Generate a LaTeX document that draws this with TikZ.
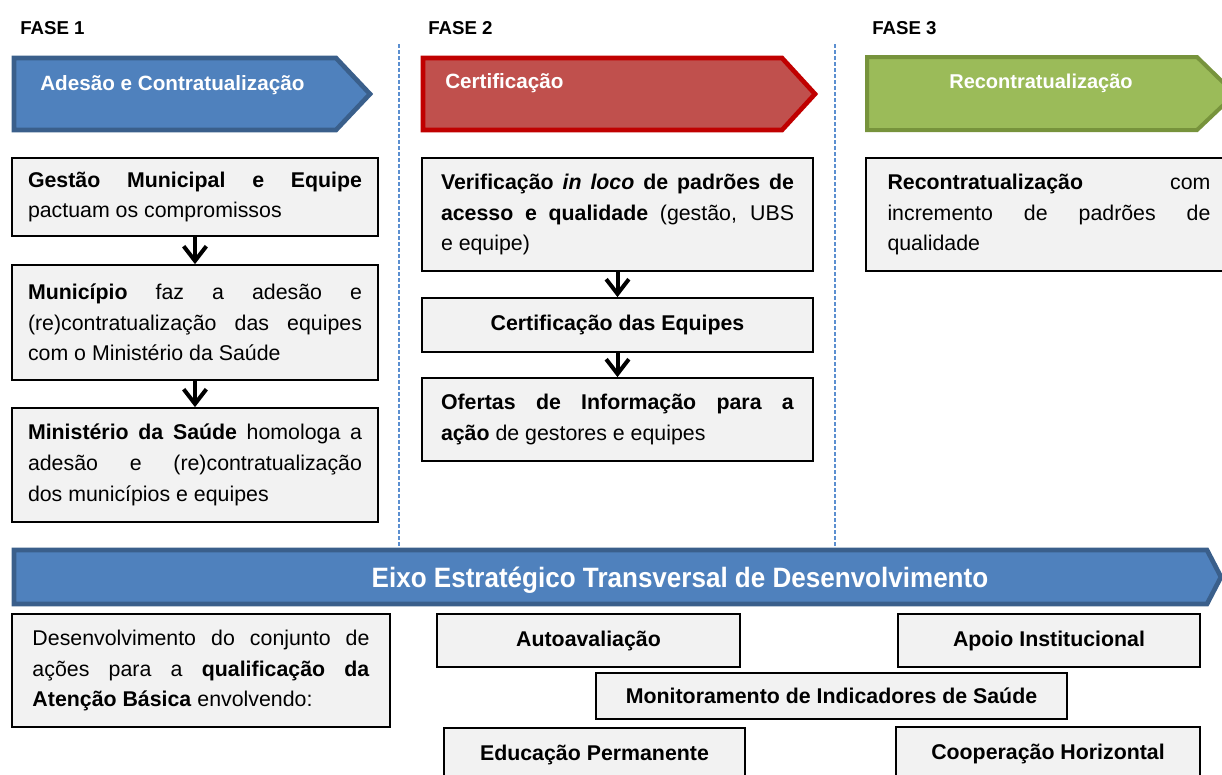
\documentclass[tikz,border=0pt]{standalone}
\usepackage{fontspec}
\setmainfont{Liberation Sans}
\newfontfamily\estreita[FakeStretch=0.93]{Liberation Sans}
\usepackage{tikz}
\usetikzlibrary{arrows.meta}

\definecolor{azul}{HTML}{4F81BD}
\definecolor{azulborda}{HTML}{3A5F8B}
\definecolor{vermelho}{HTML}{C0504D}
\definecolor{vermelhoborda}{HTML}{C00000}
\definecolor{verde}{HTML}{9BBB59}
\definecolor{verdeborda}{HTML}{77933C}
\definecolor{cinza}{HTML}{F2F2F2}
\definecolor{tracejado}{HTML}{5B8FD0}

\begin{document}
\begin{tikzpicture}[x=0.75pt, y=-0.75pt,
    caixa/.style={draw=black, line width=1.3pt, fill=cinza, align=justify,
      inner ysep=0pt, font=\fontsize{16}{23}\selectfont},
    rotulo/.style={draw=black, line width=1.3pt, fill=cinza, align=center,
      inner sep=0pt, font=\fontsize{16}{23}\selectfont\bfseries},
    seta/.style={line width=3pt, -{Straight Barb[length=11pt, width=17pt]}},
    fase/.style={anchor=west, inner sep=0pt, font=\fontsize{14}{16}\selectfont\bfseries}]
      \useasboundingbox (0,0) rectangle (1222,775);
      \clip (0,0) rectangle (1222,775);
      \hyphenpenalty=10000

      % cabecalhos
      \node[fase] (f1) at (20,28) {FASE 1};
      \node[fase] (f2) at (428,28) {FASE 2};
      \node[fase] (f3) at (872,28) {FASE 3};

      % separadores
      \draw[tracejado, line width=1.1pt, dash pattern=on 3pt off 1.5pt] (399,44) -- (399,548);
      \draw[tracejado, line width=1.1pt, dash pattern=on 3pt off 1.5pt] (835,44) -- (835,548);

      % setas das fases
      \draw[line width=3.5pt, draw=azulborda, fill=azul, line join=miter]
        (14,58) -- (336,58) -- (370,94) -- (336,130) -- (14,130) -- cycle;
      \draw[line width=3.5pt, draw=vermelhoborda, fill=vermelho, line join=miter]
        (423,58) -- (782,58) -- (815,94) -- (782,130) -- (423,130) -- cycle;
      \draw[line width=3pt, draw=verdeborda, fill=verde, line join=miter]
        (867,57) -- (1197,57) -- (1235,94) -- (1197,130) -- (867,130) -- cycle;

      \node[anchor=west, inner sep=0pt, white, font=\fontsize{15.5}{18}\selectfont\bfseries]
        (adesao) at (40,85) {Adesão e Contratualização};
      \node[anchor=west, inner sep=0pt, white, font=\fontsize{15.5}{18}\selectfont\bfseries]
        (certif) at (445,83) {Certificação};
      \node[inner sep=0pt, white, font=\fontsize{15}{18}\selectfont\bfseries]
        (recont) at (1041,83) {Recontratualização};

      % fase 1
      \node[caixa, text width=250.5pt, inner xsep=12pt, minimum height=58.5pt] (gestao) at (195,197)
        {\textbf{Gestão Municipal e Equipe}\linebreak pactuam os compromissos};
      \node[caixa, text width=250.5pt, inner xsep=12pt, minimum height=86.25pt] (municipio) at (195,322.5)
        {\textbf{Município} faz a adesão e\linebreak (re)contratualização das equipes\linebreak com o Ministério da Saúde};
      \node[caixa, text width=250.5pt, inner xsep=12pt, minimum height=85.5pt] (ministerio) at (195,465)
        {\textbf{Ministério da Saúde} homologa a\linebreak adesão e (re)contratualização\linebreak dos municípios e equipes};
      \draw[seta] (gestao) -- (municipio);
      \draw[seta] (municipio) -- (ministerio);

      % fase 2
      \node[caixa, text width=264.75pt, inner xsep=14.25pt, minimum height=84.75pt] (verif) at (617.5,214.5)
        {\textbf{Verificação \textit{in loco} de padrões de}\linebreak \textbf{acesso e qualidade} (gestão, UBS\linebreak e equipe)};
      \node[rotulo, minimum width=293.25pt, minimum height=40.5pt] (certeq) at (617.5,325)
        {Certificação das Equipes};
      \node[caixa, text width=264.75pt, inner xsep=14.25pt, minimum height=62.25pt] (ofertas) at (617.5,419.5)
        {\textbf{Ofertas de Informação para a}\linebreak \textbf{ação} de gestores e equipes};
      \draw[seta] (verif) -- (certeq);
      \draw[seta] (certeq) -- (ofertas);

      % fase 3
      \node[caixa, text width=242.25pt, inner xsep=16.1pt, minimum height=84.75pt] (recontr) at (1049,214.5)
        {\textbf{Recontratualização} com\linebreak incremento de padrões de\linebreak qualidade};

      % eixo transversal
      \draw[line width=3.5pt, draw=azulborda, fill=azul, line join=miter]
        (14,550) -- (1207,550) -- (1221,577) -- (1207,604) -- (14,604) -- cycle;
      \node[inner sep=0pt, white, font=\fontsize{21}{24}\estreita\bfseries] (eixo) at (680,580)
        {Eixo Estratégico Transversal de Desenvolvimento};

      \node[caixa, text width=252.75pt, inner xsep=15.4pt, minimum height=84.75pt] (desenv) at (201,670.5)
        {Desenvolvimento do conjunto de\linebreak ações para a \textbf{qualificação da}\linebreak \textbf{Atenção Básica} envolvendo:};
      \node[rotulo, minimum width=227.25pt, minimum height=39.75pt] (autoaval) at (588.5,640.5) {Autoavaliação};
      \node[rotulo, minimum width=226.5pt, minimum height=39.75pt] (apoio) at (1049,640.5) {Apoio Institucional};
      \node[rotulo, minimum width=353.25pt, minimum height=34.5pt] (monitor) at (831.5,696) {Monitoramento de Indicadores de Saúde};
      \node[rotulo, minimum width=225.75pt, minimum height=39.75pt] (educacao) at (594.5,754.5) {Educação Permanente};
      \node[rotulo, minimum width=228pt, minimum height=39.75pt] (cooperacao) at (1048,753.5) {Cooperação Horizontal};
\end{tikzpicture}
\end{document}
